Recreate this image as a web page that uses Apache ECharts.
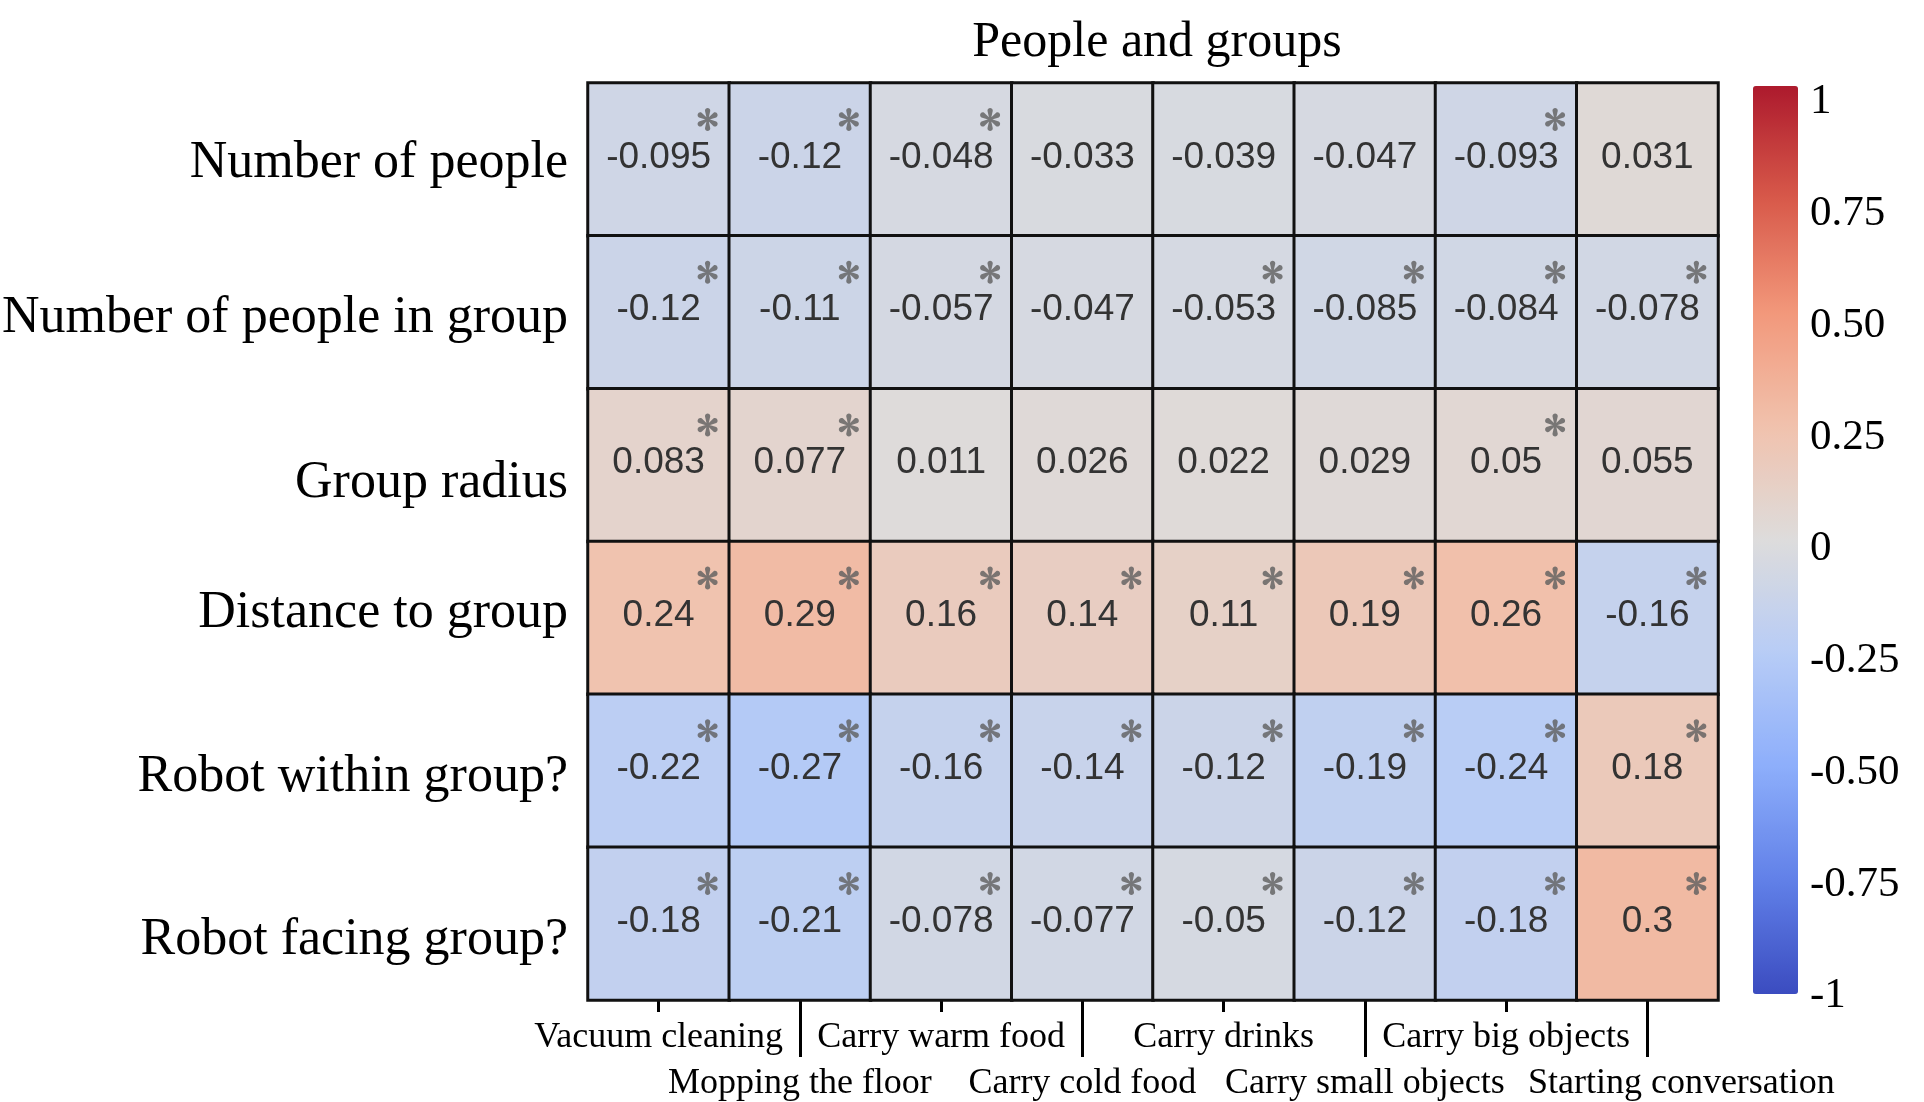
<!DOCTYPE html>
<html>
<head>
<meta charset="utf-8">
<script src="https://cdn.jsdelivr.net/npm/echarts@6/dist/echarts.min.js"></script>
<style>
  html, body { margin: 0; padding: 0; background: #fff; }
  #main { width: 1924px; height: 1102px; }
</style>
</head>
<body>
<div id="main"></div>
<script>
var chart = echarts.init(document.getElementById('main'));

var tasks = ['Vacuum cleaning', 'Mopping the floor', 'Carry warm food', 'Carry cold food',
             'Carry drinks', 'Carry small objects', 'Carry big objects', 'Starting conversation'];
var features = ['Number of people', 'Number of people in group', 'Group radius',
                'Distance to group', 'Robot within group?', 'Robot facing group?'];

// correlation per feature row, one value per task
var rowPeople      = [-0.095, -0.12, -0.048, -0.033, -0.039, -0.047, -0.093, 0.031];
var rowPeopleGroup = [-0.12, -0.11, -0.057, -0.047, -0.053, -0.085, -0.084, -0.078];
var rowRadius      = [0.083, 0.077, 0.011, 0.026, 0.022, 0.029, 0.05, 0.055];
var rowDistance    = [0.24, 0.29, 0.16, 0.14, 0.11, 0.19, 0.26, -0.16];
var rowWithin      = [-0.22, -0.27, -0.16, -0.14, -0.12, -0.19, -0.24, 0.18];
var rowFacing      = [-0.18, -0.21, -0.078, -0.077, -0.05, -0.12, -0.18, 0.3];

// 1 = significant (asterisk)
var sigPeople      = [1, 1, 1, 0, 0, 0, 1, 0];
var sigPeopleGroup = [1, 1, 1, 0, 1, 1, 1, 1];
var sigRadius      = [1, 1, 0, 0, 0, 0, 1, 0];
var sigDistance    = [1, 1, 1, 1, 1, 1, 1, 1];
var sigWithin      = [1, 1, 1, 1, 1, 1, 1, 1];
var sigFacing      = [1, 1, 1, 1, 1, 1, 1, 1];

var rows = [rowPeople, rowPeopleGroup, rowRadius, rowDistance, rowWithin, rowFacing];
var sigs = [sigPeople, sigPeopleGroup, sigRadius, sigDistance, sigWithin, sigFacing];

// the row labels in the original sit a bit off centre (px, down is positive)
var rowLabelShift = [4, 6, 18, -5, 7, 17];

// coolwarm
var coolwarm = ['#3b4cc0', '#6180e8', '#8daefb', '#b7ccf6', '#dddcdc',
                '#f1c2ad', '#f2987b', '#d85a4a', '#ad1a2d'];

var serif = 'Liberation Serif';

var heatData = [];
var starData = [];
for (var r = 0; r < rows.length; r++) {
        for (var c = 0; c < tasks.length; c++) {
                heatData.push([c, r, rows[r][c]]);
                if (sigs[r][c]) {
                        starData.push([c, r]);
                }
        }
}

var rowRich = {};
rowLabelShift.forEach(function (s, i) {
        rowRich['r' + i] = {
                fontFamily: serif, fontSize: 52, color: '#000',
                padding: s >= 0 ? [2 * s, 0, 0, 0] : [0, 0, -2 * s, 0]
        };
});

// six-petal asterisk glyph
function asteriskPath() {
        var a = 70, rr = 22, k = rr * 4 / 3, w0 = 6;
        var parts = [];
        function pt(x, y) { return x.toFixed(2) + ',' + y.toFixed(2); }
        for (var i = 0; i < 6; i++) {
                var t = (-90 + i * 60) * Math.PI / 180;
                var dx = Math.cos(t), dy = Math.sin(t);
                var nx = -dy, ny = dx;
                parts.push(
                        'M' + pt(nx * w0, ny * w0) +
                        'L' + pt(dx * a + nx * rr, dy * a + ny * rr) +
                        'C' + pt(dx * (a + k) + nx * rr, dy * (a + k) + ny * rr) + ' ' +
                              pt(dx * (a + k) - nx * rr, dy * (a + k) - ny * rr) + ' ' +
                              pt(dx * a - nx * rr, dy * a - ny * rr) +
                        'L' + pt(-nx * w0, -ny * w0) + 'Z'
                );
        }
        return 'path://' + parts.join('');
}

function bottomAxis(showIdx, tickIdx, tickLen, margin, extraLabel) {
        return {
                type: 'category',
                data: tasks,
                gridIndex: 0,
                position: 'bottom',
                axisLine: { show: false },
                axisTick: {
                        show: tickIdx !== null, alignWithLabel: true, length: tickLen,
                        interval: function (i) { return tickIdx !== null && i % 2 === tickIdx && i !== 7; },
                        lineStyle: { color: '#000', width: 3 }
                },
                axisLabel: Object.assign({
                        interval: showIdx,
                        margin: margin,
                        fontFamily: serif, fontSize: 36, color: '#000'
                }, extraLabel || {}),
                splitLine: { show: false }
        };
}

var axisOdd = bottomAxis(function (i) { return i % 2 === 0; }, 0, 12, 20);
axisOdd.axisLine = { show: true, lineStyle: { color: '#000', width: 2 } };
var axisEven = bottomAxis(function (i) { return i % 2 === 1 && i !== 7; }, 1, 57, 66);
// last label sits a little to the right of its column in the original
var axisLast = bottomAxis(function (i) { return i === 7; }, null, 0, 66, { padding: [0, 0, 0, 68] });
var axisLastTick = bottomAxis(function () { return false; }, null, 57, 66);
axisLastTick.axisTick.show = true;
axisLastTick.axisTick.interval = function (i) { return i === 7; };

chart.setOption({
        animation: false,
        title: {
                text: 'People and groups',
                left: 1152,
                top: 13,
                textAlign: 'center',
                textStyle: { fontFamily: serif, fontSize: 50, fontWeight: 'normal', color: '#000' }
        },
        grid: [
                { left: 588, right: 206, top: 83, bottom: 102, outerBoundsMode: 'none' },
                { left: 1753, width: 45, top: 102, height: 894, outerBoundsMode: 'none' }
        ],
        xAxis: [
                axisOdd,
                axisEven,
                axisLast,
                axisLastTick,
                { type: 'value', gridIndex: 1, show: false, min: 0, max: 1 }
        ],
        yAxis: [
                {
                        type: 'category',
                        data: features,
                        inverse: true,
                        gridIndex: 0,
                        axisLine: { show: false },
                        axisTick: { show: false },
                        axisLabel: {
                                margin: 20,
                                fontFamily: serif, fontSize: 52, color: '#000',
                                formatter: function (v, i) { return '{r' + i + '|' + v + '}'; },
                                rich: rowRich
                        },
                        splitLine: { show: false }
                },
                {
                        type: 'value',
                        gridIndex: 1,
                        position: 'right',
                        min: -1,
                        max: 1,
                        interval: 0.25,
                        axisLine: { show: false },
                        axisTick: { show: false },
                        splitLine: { show: false },
                        axisLabel: {
                                margin: 12,
                                fontFamily: serif, fontSize: 43, color: '#000',
                                formatter: function (v) {
                                        if (v === 1 || v === -1 || v === 0) return String(v);
                                        return v.toFixed(2);
                                }
                        }
                }
        ],
        visualMap: {
                type: 'continuous',
                min: -1,
                max: 1,
                seriesIndex: 0,
                calculable: false,
                left: 1753,
                top: 86,
                padding: 0,
                itemWidth: 45,
                itemHeight: 908,
                text: null,
                showLabel: false,
                inRange: { color: coolwarm }
        },
        series: [
                {
                        type: 'heatmap',
                        xAxisIndex: 0,
                        yAxisIndex: 0,
                        data: heatData,
                        itemStyle: { borderColor: '#111', borderWidth: 3 },
                        label: {
                                show: true,
                                offset: [0, -2],
                                fontFamily: 'Liberation Sans',
                                fontSize: 37,
                                color: '#333',
                                formatter: function (p) { return String(p.value[2]); }
                        },
                        emphasis: { disabled: true }
                },
                {
                        type: 'scatter',
                        xAxisIndex: 0,
                        yAxisIndex: 0,
                        data: starData,
                        symbol: asteriskPath(),
                        symbolSize: [20, 23],
                        symbolOffset: [49, -40],
                        itemStyle: { color: '#5e5e5e' },
                        silent: true,
                        z: 5
                }
        ]
});
</script>
</body>
</html>
